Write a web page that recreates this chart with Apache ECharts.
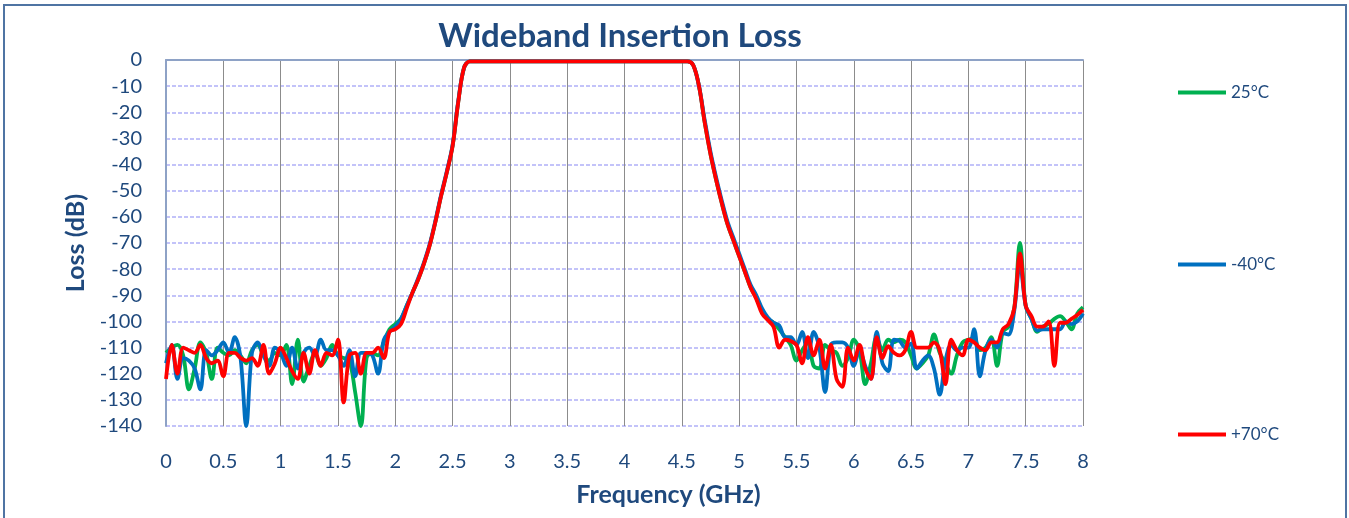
<!DOCTYPE html>
<html>
<head>
<meta charset="utf-8">
<script src="https://cdn.jsdelivr.net/npm/echarts@6/dist/echarts.min.js"></script>
<style>
html,body{margin:0;padding:0;background:#fff;}
#chart{width:1349px;height:518px;}
</style>
</head>
<body>
<div id="chart"></div>
<script>
// Frequency grid (GHz)
const freq = [
0,0.05,0.1,0.15,0.2,0.25,0.3,0.35,0.4,0.45,0.5,0.55,0.6,0.65,0.7,0.75,0.8,0.85,0.9,0.95,
1,1.05,1.1,1.15,1.2,1.25,1.3,1.35,1.4,1.45,1.5,1.55,1.6,1.65,1.7,1.75,1.8,1.85,1.9,1.95,
2,2.05,2.1,2.15,2.2,2.25,2.3,2.35,2.4,2.45,2.5,2.55,2.6,2.65,2.7,2.75,2.8,2.85,2.9,2.95,
3,3.05,3.1,3.15,3.2,3.25,3.3,3.35,3.4,3.45,3.5,3.55,3.6,3.65,3.7,3.75,3.8,3.85,3.9,3.95,
4,4.05,4.1,4.15,4.2,4.25,4.3,4.35,4.4,4.45,4.5,4.55,4.6,4.65,4.7,4.75,4.8,4.85,4.9,4.95,
5,5.05,5.1,5.15,5.2,5.25,5.3,5.35,5.4,5.45,5.5,5.55,5.6,5.65,5.7,5.75,5.8,5.85,5.9,5.95,
6,6.05,6.1,6.15,6.2,6.25,6.3,6.35,6.4,6.45,6.5,6.55,6.6,6.65,6.7,6.75,6.8,6.85,6.9,6.95,
7,7.05,7.1,7.15,7.2,7.25,7.3,7.35,7.4,7.45,7.5,7.55,7.6,7.65,7.7,7.75,7.8,7.85,7.9,7.95,
8
];

const loss25 = [
-112,-110,-109,-113,-126,-118,-108,-112,-122,-110,
-112,-113,-111,-113,-116,-111,-109,-113,-115,-112,
-113,-109,-124,-107,-123,-117,-112,-117,-114,-109,
-113,-114,-115,-127,-140,-114,-112,-113,-108,-103,
-101,
-99,-94,-89,-84,-78,-71,-62,-52,-43,-33,-16,-3,
-0.5,-0.5,-0.5,-0.5,-0.5,-0.5,-0.5,-0.5,-0.5,-0.5,-0.5,-0.5,-0.5,
-0.5,-0.5,-0.5,-0.5,-0.5,-0.5,-0.5,-0.5,-0.5,-0.5,-0.5,-0.5,-0.5,
-0.5,-0.5,-0.5,-0.5,-0.5,-0.5,-0.5,-0.5,-0.5,-0.5,-0.5,-0.5,-0.5,
-2,-10,-24,-36,-46,-55,-63,-69,-75,-81,-87,-91,-96,-99,
-100.5,-103,-106,-109,-115,-111,-108,-117,-118,-109,
-111,-112,-117,-114,-107,-111,-124,-116,-106,-111,
-107,-108,-107,-108,-113,-118,-116,-113,-105,-112,
-116,-120,-113,-108,-107,-106.5,-111,-110,-106,-117,
-104,-102,-95,-70,-94,-99,-104,-102,-101,-99,
-98,-100,-103,-97,-94.5
];

const lossM40 = [
-116,-109,-122,-114,-115,-118,-126,-111,-113,-111,
-108,-112,-106,-114,-140,-112,-108,-113,-117,-110,
-112,-117,-110,-118,-112,-110,-113,-107,-111,-111,
-113,-117,-111,-121,-112,-112,-113,-120,-107,-104,
-102,
-99,-94,-89,-83.5,-77.5,-70.5,-61.5,-51.5,-42.5,-32.5,-15.5,-3,
-0.5,-0.5,-0.5,-0.5,-0.5,-0.5,-0.5,-0.5,-0.5,-0.5,-0.5,-0.5,-0.5,
-0.5,-0.5,-0.5,-0.5,-0.5,-0.5,-0.5,-0.5,-0.5,-0.5,-0.5,-0.5,-0.5,
-0.5,-0.5,-0.5,-0.5,-0.5,-0.5,-0.5,-0.5,-0.5,-0.5,-0.5,-0.5,-0.5,
-2,-10,-23,-35,-45,-54,-62,-68,-74,-80,-86,-90,-95,-98.5,
-100.5,-101.5,-106,-106,-109,-104,-114,-104,-110,-127,
-109,-108,-108,-110,-117,-111,-117,-122,-104,-116,
-119,-107,-107.5,-110,-108.5,-118,-115,-113,-118,-128,
-115,-109,-111,-110,-110,-103,-121,-111,-107,-110,
-104.5,-105,-96,-78,-94,-99,-103.5,-103,-103,-103,
-103,-100,-101,-100,-97
];

const lossP70 = [
-122,-109,-120,-110,-111,-112,-109,-114,-116,-115,
-121,-112,-112,-114,-115,-114,-117,-109,-120,-116,
-110,-114,-119,-122,-112,-120,-111,-117,-112,-113,
-107,-131,-113,-112,-120,-112,-112,-110,-114,-104,
-103,
-101,-95,-89,-84,-78,-71,-62,-52,-43,-33,-16,-3,
-0.5,-0.5,-0.5,-0.5,-0.5,-0.5,-0.5,-0.5,-0.5,-0.5,-0.5,-0.5,-0.5,
-0.5,-0.5,-0.5,-0.5,-0.5,-0.5,-0.5,-0.5,-0.5,-0.5,-0.5,-0.5,-0.5,
-0.5,-0.5,-0.5,-0.5,-0.5,-0.5,-0.5,-0.5,-0.5,-0.5,-0.5,-0.5,-0.5,
-2,-10,-24,-36,-46,-55,-63,-69,-75,-81,-87,-91.5,-97,-99.5,
-102,-110,-107,-107.5,-109,-116,-106,-113,-107,-118,
-109,-122,-125,-110,-115,-109,-118,-122,-106,-114,
-109.5,-112,-113,-111,-104,-110,-110,-110,-108,-111,
-124,-107,-111,-113,-107,-108,-110,-111,-108,-108,
-103,-101,-95,-74,-94,-98,-102,-102,-100,-117,
-100.5,-100.5,-99,-97.5,-95.6
];

const seriesNames = ['25°C', '-40°C', '+70°C'];
const seriesColors = ['#00B050', '#0070C0', '#FF0000'];
const seriesValues = [loss25, lossM40, lossP70];

const textColor = '#1F497D';
const font = 'Lato, "Open Sans", sans-serif';

const chart = echarts.init(document.getElementById('chart'));

const series = seriesNames.map((name, k) => ({
  name: name,
  type: 'line',
  data: freq.map((f, i) => [f, seriesValues[k][i]]),
  symbol: 'none',
  smooth: 0.35,
  lineStyle: { color: seriesColors[k], width: 3.8 },
  itemStyle: { color: seriesColors[k] },
  z: 3 + k
}));

const legendTops = [79, 251, 421];
const legends = seriesNames.map((name, k) => ({
  data: [name],
  left: 1173,
  top: legendTops[k],
  itemWidth: 48,
  itemHeight: 18,
  itemGap: 4,
  icon: 'path://M0,0 L48,0 L48,4 L0,4 Z',
  textStyle: { color: textColor, fontSize: 17, fontFamily: font },
  selectedMode: false
}));

chart.setOption({
  animation: false,
  backgroundColor: '#fff',
  title: {
    text: 'Wideband Insertion Loss',
    left: 615, textAlign: 'center',
    top: 15,
    textStyle: { color: textColor, fontSize: 33, fontWeight: 'bold', fontFamily: font }
  },
  legend: legends,
  grid: { left: 166, right: 266, top: 60, bottom: 92, containLabel: false },
  xAxis: [{
    type: 'value', min: 0, max: 8, interval: 0.5,
    name: 'Frequency (GHz)', nameLocation: 'middle', nameGap: 56,
    nameTextStyle: { color: textColor, fontSize: 25, fontWeight: 'bold', fontFamily: font, padding: [0, 0, 0, 88] },
    axisLine: { show: false },
    axisTick: { show: false },
    axisLabel: { color: textColor, fontSize: 20, fontFamily: font, margin: 26 },
    splitLine: { show: true, lineStyle: { color: '#8c8c8c', width: 1, type: 'solid' } }
  }, {
    type: 'value', min: 0, max: 8, position: 'top',
    axisLine: { show: true, lineStyle: { color: '#8EA2C6', width: 2 } },
    axisTick: { show: false }, axisLabel: { show: false }, splitLine: { show: false }
  }],
  yAxis: {
    type: 'value', min: -140, max: 0, interval: 10,
    name: 'Loss (dB)', nameLocation: 'middle', nameGap: 78, nameRotate: 90,
    nameTextStyle: { color: textColor, fontSize: 25, fontWeight: 'bold', fontFamily: font },
    axisLine: { show: true, lineStyle: { color: '#8EA2C6', width: 2 } },
    axisTick: { show: false },
    axisLabel: { color: textColor, fontSize: 20, fontFamily: font, margin: 24 },
    splitLine: { show: true, lineStyle: { color: '#B0B0F7', width: 1.5, type: [4, 2] } }
  },
  graphic: [{
    type: 'rect',
    shape: { x: 4, y: 5, width: 1342, height: 530 },
    style: { fill: 'none', stroke: '#4F74A3', lineWidth: 2 },
    silent: true, z: 100
  }],
  series: series
});
</script>
</body>
</html>
